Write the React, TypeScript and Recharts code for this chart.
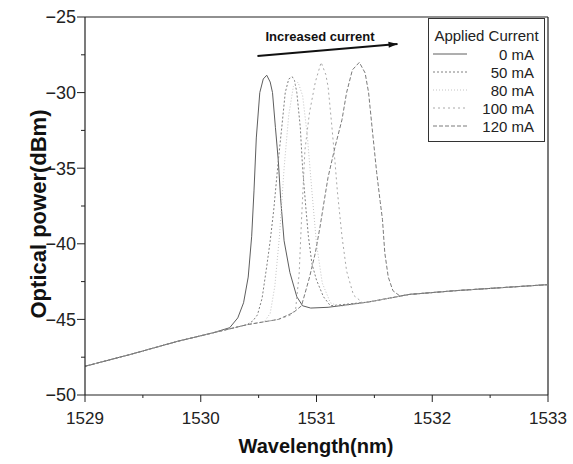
import React from 'react';
import {
  LineChart,
  Line,
  XAxis,
  YAxis,
  ReferenceLine,
  ReferenceDot,
  Label,
} from 'recharts';

// wavelength (nm), optical power (dBm)
const CURVE_0MA: [number, number][] = [
  [1529, -48.1], [1529.4, -47.3], [1529.8, -46.45], [1530.1, -45.9], [1530.25, -45.55],
  [1530.32, -44.9], [1530.37, -43.9], [1530.41, -42.2], [1530.44, -39.5], [1530.46, -36.5],
  [1530.48, -33.0], [1530.51, -30.0], [1530.54, -29.1], [1530.57, -28.85], [1530.6, -29.3],
  [1530.62, -30.0], [1530.645, -32.3], [1530.67, -34.5], [1530.69, -37.0], [1530.72, -39.8],
  [1530.77, -41.9], [1530.83, -43.5], [1530.88, -44.1], [1530.95, -44.25], [1531.1, -44.2],
  [1531.45, -43.85], [1531.8, -43.35], [1532.2, -43.1], [1532.6, -42.9], [1533, -42.7],
];
const CURVE_50MA: [number, number][] = [
  [1529, -48.1], [1529.4, -47.3], [1529.8, -46.45], [1530.1, -45.9], [1530.4, -45.35],
  [1530.45, -45.1], [1530.49, -44.7], [1530.53, -43.6], [1530.57, -41.5], [1530.6, -39.8],
  [1530.63, -37.8], [1530.67, -34.5], [1530.7, -32.3], [1530.73, -30.0], [1530.76, -29.1],
  [1530.79, -28.95], [1530.81, -29.2], [1530.83, -30.0], [1530.86, -32.3], [1530.88, -35.0],
  [1530.91, -37.8], [1530.93, -39.5], [1530.96, -41.3], [1531.0, -42.4], [1531.06, -43.5],
  [1531.12, -44.1], [1531.45, -43.85], [1531.8, -43.35], [1532.2, -43.1], [1532.6, -42.9],
  [1533, -42.7],
];
const CURVE_80MA: [number, number][] = [
  [1529, -48.1], [1529.4, -47.3], [1529.8, -46.45], [1530.1, -45.9], [1530.4, -45.35],
  [1530.55, -45.15], [1530.6, -44.6], [1530.64, -42.8], [1530.68, -39.5], [1530.72, -35.0],
  [1530.76, -31.5], [1530.8, -29.6], [1530.84, -29.3], [1530.88, -30.2], [1530.92, -32.8],
  [1530.96, -36.5], [1531.0, -40.0], [1531.05, -42.6], [1531.12, -43.9], [1531.2, -44.15],
  [1531.45, -43.85], [1531.8, -43.35], [1532.2, -43.1], [1532.6, -42.9], [1533, -42.7],
];
const CURVE_100MA: [number, number][] = [
  [1529, -48.1], [1529.4, -47.3], [1529.8, -46.45], [1530.1, -45.9], [1530.4, -45.35],
  [1530.67, -45.0], [1530.78, -44.7], [1530.82, -44.3], [1530.85, -42.0], [1530.87, -38.5],
  [1530.9, -33.8], [1530.94, -31.3], [1530.99, -29.3], [1531.04, -28.0], [1531.08, -28.8],
  [1531.1, -29.6], [1531.13, -32.0], [1531.16, -34.6], [1531.18, -36.5], [1531.22, -39.5],
  [1531.26, -41.8], [1531.32, -43.4], [1531.4, -43.9], [1531.45, -43.85], [1531.8, -43.35],
  [1532.2, -43.1], [1532.6, -42.9], [1533, -42.7],
];
const CURVE_120MA: [number, number][] = [
  [1529, -48.1], [1529.4, -47.3], [1529.8, -46.45], [1530.1, -45.9], [1530.4, -45.35],
  [1530.67, -45.0], [1530.8, -44.55], [1530.87, -44.1], [1530.9, -43.3], [1530.94, -42.2],
  [1530.99, -40.6], [1531.03, -38.9], [1531.07, -37.0], [1531.1, -35.6], [1531.16, -33.6],
  [1531.22, -31.8], [1531.26, -30.0], [1531.31, -28.5], [1531.37, -28.0], [1531.42, -28.7],
  [1531.45, -30.0], [1531.48, -32.3], [1531.52, -35.3], [1531.55, -37.2], [1531.57, -38.4],
  [1531.59, -40.6], [1531.62, -42.2], [1531.66, -43.1], [1531.72, -43.45], [1531.8, -43.35],
  [1532.2, -43.1], [1532.6, -42.9], [1533, -42.7],
];

const X_TICKS = [1529, 1529.5, 1530, 1530.5, 1531, 1531.5, 1532, 1532.5, 1533];
const Y_TICKS = [-50, -47.5, -45, -42.5, -40, -37.5, -35, -32.5, -30, -27.5, -25];

const ARROW_START: [number, number] = [1530.49, -27.58];
const ARROW_END: [number, number] = [1531.7, -26.79];
const NOTE_POS: [number, number] = [1531.03, -26.3];

const SERIES = [
  { name: '0 mA', points: CURVE_0MA, color: '#5e5e5e', dash: undefined as string | undefined },
  { name: '50 mA', points: CURVE_50MA, color: '#808080', dash: '2 2' },
  { name: '80 mA', points: CURVE_80MA, color: '#c4c4c4', dash: '1 2' },
  { name: '100 mA', points: CURVE_100MA, color: '#a8a8a8', dash: '2 3' },
  { name: '120 mA', points: CURVE_120MA, color: '#7a7a7a', dash: '4 2' },
];

const FONT = '"Liberation Sans", Arial, sans-serif';

const XTick = (props: any) => {
  const { x, y, payload } = props;
  const v = payload.value;
  const major = Math.abs(v - Math.round(v)) < 1e-6;
  return (
    <g>
      <line x1={x} y1={y} x2={x} y2={y + (major ? 7 : 3)} stroke="#222" strokeWidth={1} />
      {major && (
        <text x={x} y={y + 29} textAnchor="middle" fontSize={17} fill="#222" fontFamily={FONT}>
          {v}
        </text>
      )}
    </g>
  );
};

const YTick = (props: any) => {
  const { x, y, payload } = props;
  const v = payload.value;
  const major = Math.abs(v % 5) < 1e-6;
  return (
    <g>
      <line x1={x - (major ? 8 : 4)} y1={y} x2={x} y2={y} stroke="#222" strokeWidth={1} />
      {major && (
        <text x={x - 9} y={y} dy="0.36em" textAnchor="end" fontSize={18} fill="#222" fontFamily={FONT}>
          {String(v).replace('-', '\u2212')}
        </text>
      )}
    </g>
  );
};

const Arrowhead = (props: any) => {
  const { cx, cy } = props;
  if (cx == null || cy == null) return null;
  const a = Math.atan2(-12, 141);
  const len = 9;
  const w = 3;
  const bx = cx - len * Math.cos(a);
  const by = cy - len * Math.sin(a);
  const px = -Math.sin(a) * w;
  const py = Math.cos(a) * w;
  return <polygon points={`${cx},${cy} ${bx + px},${by + py} ${bx - px},${by - py}`} fill="#111" />;
};

const Note = (props: any) => {
  const { cx, cy } = props;
  if (cx == null || cy == null) return null;
  return (
    <text x={cx} y={cy} dy="0.35em" textAnchor="middle" fontSize={13} fontWeight="bold" fill="#111" fontFamily={FONT}>
      Increased current
    </text>
  );
};

const LegendBox = () => (
  <div
    style={{
      position: 'absolute',
      left: 428,
      top: 18,
      width: 117,
      height: 124,
      border: '1px solid #333',
      background: '#fff',
      fontFamily: FONT,
      color: '#222',
      boxSizing: 'border-box',
    }}
  >
    <div style={{ fontSize: 15, textAlign: 'center', marginTop: 8, lineHeight: '18px' }}>Applied Current</div>
    {SERIES.map((s) => (
      <div key={s.name} style={{ display: 'flex', alignItems: 'center', height: 18, fontSize: 15 }}>
        <svg width={40} height={10} style={{ marginLeft: 4 }}>
          <line x1={0} y1={5} x2={34} y2={5} stroke={s.color} strokeWidth={1} strokeDasharray={s.dash} />
        </svg>
        <span style={{ flex: 1, textAlign: 'right', paddingRight: 10 }}>{s.name}</span>
      </div>
    ))}
  </div>
);

export default function App() {
  return (
    <div style={{ position: 'absolute', left: 0, top: 0, width: 573, height: 464, background: '#fff' }}>
      <LineChart width={573} height={464} margin={{ top: 17, right: 25, left: 0, bottom: 0 }}>
        <XAxis
          type="number"
          dataKey="wl"
          domain={[1529, 1533]}
          ticks={X_TICKS}
          interval={0}
          height={69}
          tickSize={0}
          tickMargin={0}
          tickLine={false}
          tick={<XTick />}
          axisLine={{ stroke: '#222', strokeWidth: 1.2 }}
          allowDataOverflow
        >
          <Label
            content={() => (
              <text x={316} y={453} textAnchor="middle" fontSize={20} fontWeight="bold" fill="#111" fontFamily={FONT}>
                Wavelength(nm)
              </text>
            )}
          />
        </XAxis>
        <YAxis
          type="number"
          domain={[-50, -25]}
          ticks={Y_TICKS}
          interval={0}
          width={85}
          tickSize={0}
          tickMargin={0}
          tickLine={false}
          tick={<YTick />}
          axisLine={{ stroke: '#222', strokeWidth: 1.2 }}
          allowDataOverflow
        >
          <Label
            content={() => (
              <text
                x={38}
                y={214}
                transform="rotate(-90 38 214)"
                dy="0.35em"
                textAnchor="middle"
                fontSize={22}
                fontWeight="bold"
                fill="#111"
                fontFamily={FONT}
              >
                Optical power(dBm)
              </text>
            )}
          />
        </YAxis>
        <ReferenceLine y={-25} stroke="#222" strokeWidth={1.2} />
        <ReferenceLine x={1533} stroke="#222" strokeWidth={1.2} />
        {SERIES.map((s) => (
          <Line
            key={s.name}
            data={s.points.map(([wl, p]) => ({ wl, p }))}
            dataKey="p"
            name={s.name}
            type="linear"
            stroke={s.color}
            strokeWidth={1}
            strokeDasharray={s.dash}
            dot={false}
            activeDot={false}
            isAnimationActive={false}
          />
        ))}
        <ReferenceLine
          segment={[
            { x: ARROW_START[0], y: ARROW_START[1] },
            { x: ARROW_END[0], y: ARROW_END[1] },
          ]}
          stroke="#111"
          strokeWidth={2}
        />
        <ReferenceDot x={ARROW_END[0]} y={ARROW_END[1]} r={1} shape={<Arrowhead />} />
        <ReferenceDot x={NOTE_POS[0]} y={NOTE_POS[1]} r={1} shape={<Note />} />
      </LineChart>
      <LegendBox />
    </div>
  );
}
